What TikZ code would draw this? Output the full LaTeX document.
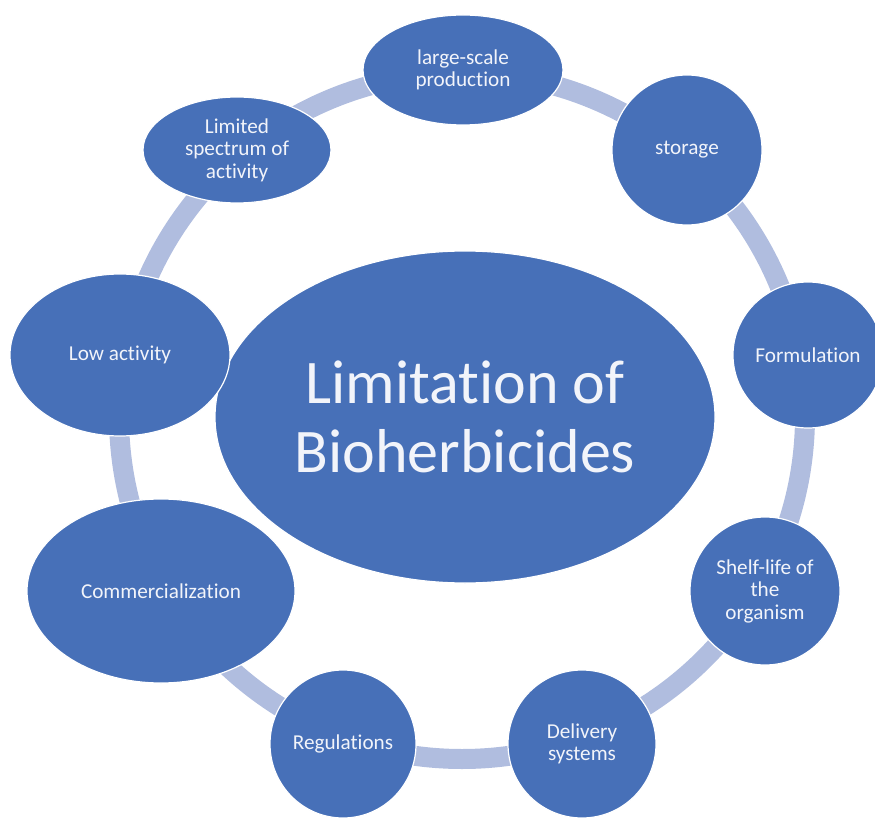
\documentclass[tikz,border=0pt]{standalone}
\usepackage{fontspec}
\setmainfont[Ligatures=NoCommon]{Carlito}
\usetikzlibrary{shapes.geometric}
\definecolor{nodeblue}{RGB}{71,112,184}
\definecolor{ringblue}{RGB}{176,189,223}
\definecolor{txt}{RGB}{242,244,250}
\tikzset{
  bubble/.style={ellipse, fill=nodeblue, draw=white, line width=1.2pt,
    inner sep=0pt, outer sep=0pt, text=txt, align=center,
    font=\fontsize{21.2}{22.5}\selectfont},
  ringline/.style={draw=ringblue, line width=20pt},
}
\begin{document}
\begin{tikzpicture}[x=1pt,y=-1pt]
\useasboundingbox (0,0) rectangle (875,818);
\clip (0,0) rectangle (875,818);
\coordinate (ringc) at (462,416);
\draw[ringline] (ringc) circle[radius=343];
\node[bubble, minimum width=500pt, minimum height=332pt,
      font=\fontsize{62}{69}\selectfont] (main) at (465,417) {Limitation of\\Bioherbicides};
\node[bubble, minimum width=200pt, minimum height=110pt] (large) at (463,70) {large-scale\\production};
\node[bubble, minimum width=188pt, minimum height=106pt] (limited) at (237,150) {Limited\\spectrum of\\activity};
\node[bubble, minimum width=150pt, minimum height=150pt] (storage) at (687,150) {storage};
\node[bubble, minimum width=150pt, minimum height=146pt] (formulation) at (808,355) {Formulation};
\node[bubble, minimum width=150pt, minimum height=148pt] (shelf) at (765,591) {Shelf-life of\\the\\organism};
\node[bubble, minimum width=148pt, minimum height=148pt] (delivery) at (582,744) {Delivery\\systems};
\node[bubble, minimum width=146pt, minimum height=148pt] (regulations) at (343,744) {Regulations};
\node[bubble, minimum width=268pt, minimum height=184pt] (commercial) at (161,591) {Commercialization};
\node[bubble, minimum width=220pt, minimum height=162pt] (low) at (120,355) {Low activity};
\end{tikzpicture}
\end{document}
